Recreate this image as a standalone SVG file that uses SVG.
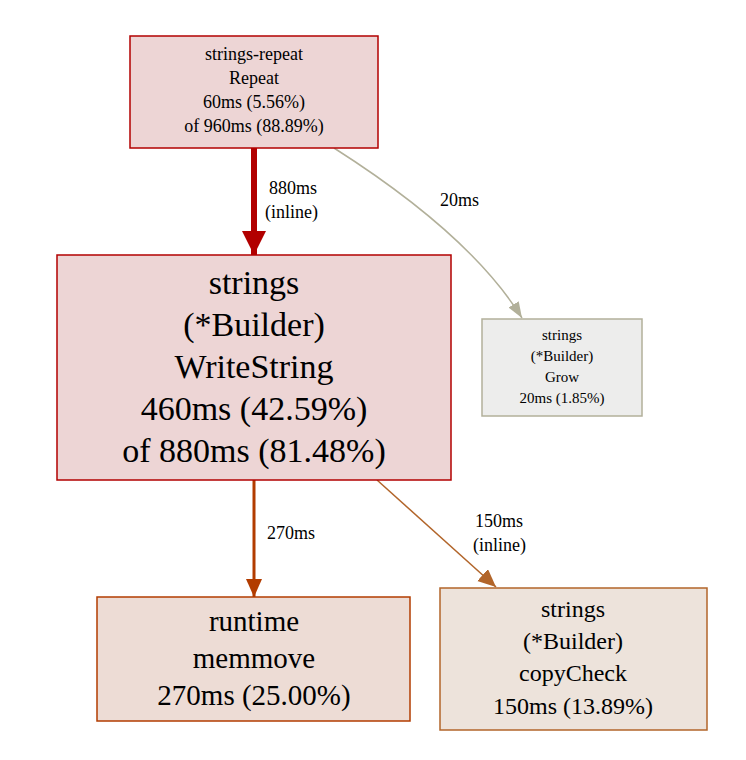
<svg xmlns="http://www.w3.org/2000/svg" width="746" height="760" viewBox="0 0 746 760" font-family="'Liberation Serif', 'DejaVu Serif', 'Times New Roman', serif">
<style>
text{font-family:'Liberation Serif','DejaVu Serif','Times New Roman',serif;text-anchor:middle;fill:#000}
.lbl{text-anchor:start;font-size:18px}
</style>
<defs>
<marker id="a1" markerUnits="userSpaceOnUse" markerWidth="26" markerHeight="26" refX="24" refY="12" orient="auto"><path d="M0,0L24,12L0,24Z" fill="#b20000"/></marker>
<marker id="a2" markerUnits="userSpaceOnUse" markerWidth="20" markerHeight="20" refX="18" refY="8" orient="auto"><path d="M0,0L18,8L0,16Z" fill="#b23c00"/></marker>
<marker id="a3" markerUnits="userSpaceOnUse" markerWidth="20" markerHeight="20" refX="18" refY="8" orient="auto"><path d="M0,0L18,8L0,16Z" fill="#b2652a"/></marker>
<marker id="a4" markerUnits="userSpaceOnUse" markerWidth="20" markerHeight="20" refX="16" refY="6" orient="auto"><path d="M0,0L16,6L0,12Z" fill="#b2b09a"/></marker>
</defs>
<rect width="746" height="760" fill="#fff"/>
<g id="edges">
<path d="M254,148L254,255" stroke="#b20000" stroke-width="6" fill="none" marker-end="url(#a1)"/>
<text class="lbl" x="269" y="194">880ms</text>
<text class="lbl" x="265" y="218">(inline)</text>
<path d="M334,148C400,190 480,250 522,318" stroke="#b2b09a" stroke-width="1.5" fill="none" marker-end="url(#a4)"/>
<text class="lbl" x="440" y="206">20ms</text>
<path d="M254,480L254,597" stroke="#b23c00" stroke-width="3" fill="none" marker-end="url(#a2)"/>
<text class="lbl" x="267" y="539">270ms</text>
<path d="M377,480L496,587" stroke="#b2652a" stroke-width="1.5" fill="none" marker-end="url(#a3)"/>
<text class="lbl" x="475" y="527">150ms</text>
<text class="lbl" x="473" y="551">(inline)</text>
</g>
<g id="node-repeat">
<rect x="130" y="36" width="248" height="112" fill="#edd5d5" stroke="#b20000" stroke-width="1.5"/>
<text font-size="18" x="254" y="60">strings-repeat</text>
<text font-size="18" x="254" y="84">Repeat</text>
<text font-size="18" x="254" y="108">60ms (5.56%)</text>
<text font-size="18" x="254" y="132">of 960ms (88.89%)</text>
</g>
<g id="node-writestring">
<rect x="57" y="255" width="394" height="225" fill="#edd5d5" stroke="#b20000" stroke-width="1.5"/>
<text font-size="34" x="254" y="294">strings</text>
<text font-size="34" x="254" y="336">(*Builder)</text>
<text font-size="34" x="254" y="378">WriteString</text>
<text font-size="34" x="254" y="420">460ms (42.59%)</text>
<text font-size="34" x="254" y="462">of 880ms (81.48%)</text>
</g>
<g id="node-grow">
<rect x="482" y="319" width="160" height="97" fill="#ededec" stroke="#b2b09a" stroke-width="1.5"/>
<text font-size="15" x="562" y="340">strings</text>
<text font-size="15" x="562" y="361">(*Builder)</text>
<text font-size="15" x="562" y="382">Grow</text>
<text font-size="15" x="562" y="403">20ms (1.85%)</text>
</g>
<g id="node-memmove">
<rect x="97" y="597" width="313" height="124" fill="#eddcd5" stroke="#b23c00" stroke-width="1.5"/>
<text font-size="29" x="254" y="631">runtime</text>
<text font-size="29" x="254" y="668">memmove</text>
<text font-size="29" x="254" y="705">270ms (25.00%)</text>
</g>
<g id="node-copycheck">
<rect x="440" y="588" width="267" height="142" fill="#ede3db" stroke="#b2652a" stroke-width="1.5"/>
<text font-size="24" x="573" y="617">strings</text>
<text font-size="24" x="573" y="649">(*Builder)</text>
<text font-size="24" x="573" y="681">copyCheck</text>
<text font-size="24" x="573" y="714">150ms (13.89%)</text>
</g>
</svg>
